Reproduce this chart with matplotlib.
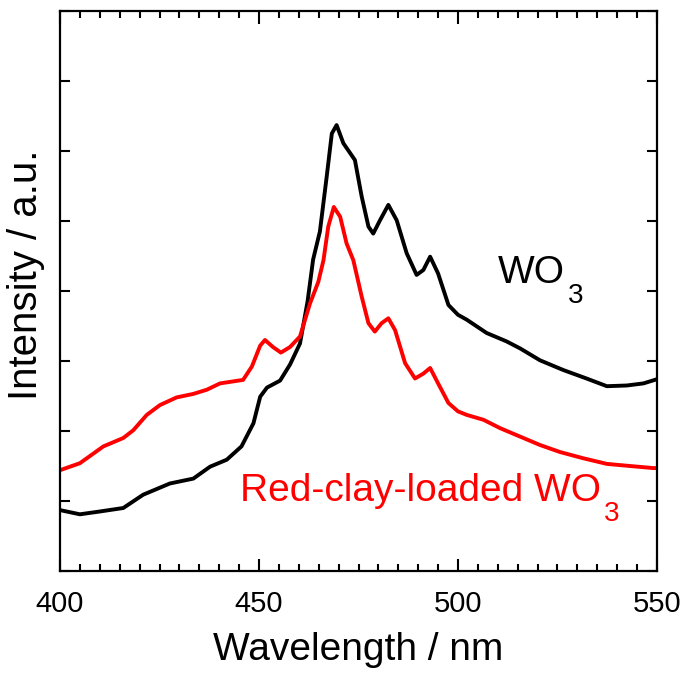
import matplotlib
matplotlib.use("Agg")
import matplotlib.pyplot as plt
from matplotlib.ticker import MultipleLocator, NullFormatter

plt.rcParams['font.family'] = ['Liberation Sans', 'DejaVu Sans']

# WO3
wl_wo3 = [400, 405, 410, 415.9, 420.9, 427.6, 433.5, 437.7, 441.9, 445.6, 448.6,
          450.3, 452, 455.3, 457.8, 460.3, 462.2, 463.6, 465.3, 467, 468.3, 469.5,
          471.2, 472.9, 474.1, 475.8, 477.5, 478.7, 480.4, 482.5, 484.6, 487.1,
          489.6, 491.3, 493, 495, 497.6, 500, 502.2, 507.2, 512.2, 515.6, 520.6,
          526.5, 532.3, 537.4, 542.4, 546.6, 550]
int_wo3 = [0.87, 0.81, 0.85, 0.90, 1.09, 1.25, 1.32, 1.49, 1.59, 1.78, 2.11,
           2.49, 2.62, 2.72, 2.95, 3.25, 3.85, 4.45, 4.85, 5.63, 6.25, 6.37,
           6.11, 5.97, 5.87, 5.35, 4.92, 4.82, 5.01, 5.23, 5.01, 4.54,
           4.23, 4.30, 4.49, 4.25, 3.80, 3.66, 3.59, 3.40, 3.28, 3.18, 3.01,
           2.87, 2.75, 2.64, 2.65, 2.68, 2.74]

# Red-clay-loaded WO3
wl_rc = [400, 405, 410.9, 415.9, 418.4, 421.8, 425.1, 429.3, 433.5, 436.9, 440.2,
         446, 448.2, 450.3, 451.5, 453.5, 455.5, 457.8, 460.3, 462.8, 464.9, 466.2,
         467.4, 468.8, 470.4, 472, 473.7, 475.8, 477.5, 479.1, 480.8, 482.5,
         484.2, 486.7, 489.2, 491.3, 493, 495, 497.6, 500, 502.2, 506.4, 510.6,
         515.6, 520.6, 525.6, 531.5, 537.4, 543.2, 549.1, 550]
int_rc = [1.44, 1.54, 1.78, 1.90, 2.01, 2.23, 2.37, 2.48, 2.53, 2.59, 2.68,
          2.73, 2.92, 3.22, 3.30, 3.20, 3.12, 3.20, 3.35, 3.82, 4.13, 4.44,
          4.92, 5.20, 5.06, 4.68, 4.44, 3.92, 3.54, 3.42, 3.54, 3.61,
          3.44, 2.97, 2.75, 2.82, 2.90, 2.68, 2.40, 2.28, 2.23, 2.16, 2.04,
          1.92, 1.80, 1.70, 1.61, 1.53, 1.50, 1.47, 1.47]

FIG_W, FIG_H = 685, 677
fig = plt.figure(figsize=(FIG_W / 100, FIG_H / 100), dpi=100)
ax = fig.add_axes([60/FIG_W, 106/FIG_H, 597/FIG_W, 560/FIG_H])

ax.plot(wl_wo3, int_wo3, color='black', lw=2.8, solid_joinstyle='round',
        solid_capstyle='round')
ax.plot(wl_rc, int_rc, color='#ff0000', lw=2.8, solid_joinstyle='round',
        solid_capstyle='round')

ax.set_xlim(400, 550)
ax.set_ylim(0, 8)
ax.xaxis.set_major_locator(MultipleLocator(50))
ax.xaxis.set_minor_locator(MultipleLocator(5))
ax.yaxis.set_major_locator(MultipleLocator(1))
ax.yaxis.set_major_formatter(NullFormatter())
ax.tick_params(axis='both', which='both', direction='in', top=True, right=True,
               width=1.5, labelsize=21)
ax.tick_params(axis='x', which='major', length=9, pad=14)
ax.tick_params(axis='x', which='minor', length=5)
ax.tick_params(axis='y', which='major', length=7)
for s in ax.spines.values():
    s.set_linewidth(1.6)

ax.set_xlabel('Wavelength / nm', fontsize=28, labelpad=10)
fig.text(26/FIG_W, 1 - 275/FIG_H, 'Intensity / a.u.', fontsize=29,
         rotation=90, ha='center', va='center')

t1 = ax.text(510, 4.11, 'WO', fontsize=28, color='black', ha='left',
             va='baseline')
ax.annotate('3', xy=(1, 0), xycoords=t1, xytext=(2, -8.5),
            textcoords='offset points', fontsize=20, color='black',
            ha='left', va='baseline')
t2 = ax.text(445.2, 1.0, 'Red-clay-loaded WO', fontsize=28, color='#ff0000',
             ha='left', va='baseline')
ax.annotate('3', xy=(1, 0), xycoords=t2, xytext=(2, -8.5),
            textcoords='offset points', fontsize=20, color='#ff0000',
            ha='left', va='baseline')

fig.savefig('out.png', dpi=100)
